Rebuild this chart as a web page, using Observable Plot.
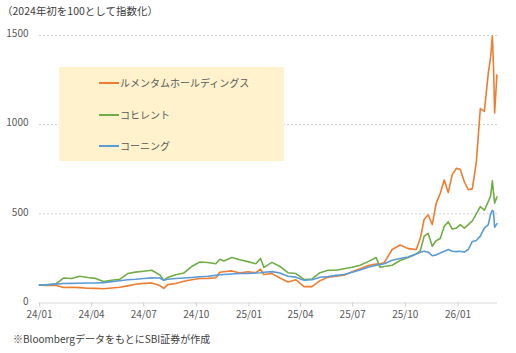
<!DOCTYPE html>
<html><head><meta charset="utf-8">
<script src="https://cdn.jsdelivr.net/npm/d3@7"></script>
<script src="https://cdn.jsdelivr.net/npm/@observablehq/plot@0.6"></script>
<style>
body{margin:0;background:#fff;font-family:"Noto Sans CJK JP","Noto Sans",sans-serif;}
#wrap{position:relative;width:516px;height:353px;overflow:hidden;}
#title{height:22px;line-height:22px;font-size:10.5px;color:#404040;padding-left:2px;white-space:nowrap;}
#chart svg{display:block;}
#caption{margin-top:4px;height:20px;line-height:20px;font-size:10px;color:#404040;padding-left:13px;white-space:nowrap;}
#legend{position:absolute;left:59px;top:67px;width:225px;height:94px;background:#FFF2CC;}
.item{position:absolute;left:40px;height:16px;line-height:16px;font-size:10px;color:#595959;white-space:nowrap;}
.item span.sw{display:inline-block;width:20px;height:2px;vertical-align:middle;margin-right:1px;position:relative;top:-1px;}
</style>
</head><body>
<div id="wrap">
<div id="title"></div>
<div id="chart"></div>
<div id="caption"></div>
<div id="legend"></div>
</div>
<script>
const titleText = "（2024年初を100として指数化）";
const captionText = "※BloombergデータをもとにSBI証券が作成";
const seriesNames = ["ルメンタムホールディングス", "コヒレント", "コーニング"];
const seriesColors = ["#ED7D31", "#70AD47", "#5B9BD5"];

const dates = ["2024-01-01","2024-01-15","2024-01-29","2024-02-12","2024-02-26","2024-03-11","2024-03-25","2024-04-08","2024-04-22","2024-05-06","2024-05-20","2024-06-03","2024-06-17","2024-07-01","2024-07-15","2024-07-29","2024-08-05","2024-08-12","2024-08-26","2024-09-09","2024-09-23","2024-10-07","2024-10-21","2024-11-04","2024-11-11","2024-11-18","2024-12-02","2024-12-16","2024-12-30","2025-01-13","2025-01-21","2025-01-27","2025-02-10","2025-02-24","2025-03-10","2025-03-24","2025-04-07","2025-04-21","2025-05-05","2025-05-19","2025-06-02","2025-06-16","2025-06-30","2025-07-14","2025-07-28","2025-08-11","2025-08-18","2025-08-25","2025-09-08","2025-09-22","2025-10-06","2025-10-20","2025-10-27","2025-11-03","2025-11-10","2025-11-17","2025-11-24","2025-12-01","2025-12-08","2025-12-15","2025-12-22","2025-12-29","2026-01-05","2026-01-12","2026-01-19","2026-01-26","2026-02-02","2026-02-09","2026-02-16","2026-02-23","2026-02-27","2026-03-02","2026-03-04","2026-03-06","2026-03-10"];

const lumentum = [100,98,100,87,88,86,83,82,80,84,88,96,105,110,112,98,82,103,109,122,130,137,138,142,172,175,180,168,175,170,190,160,165,140,118,130,92,92,125,145,150,156,175,192,210,218,220,225,300,325,305,300,360,470,495,440,560,615,690,620,720,755,750,680,635,640,790,1090,1075,1290,1380,1495,1330,1065,1280];

const coherent = [100,102,106,140,137,150,143,138,120,128,133,165,173,178,184,158,128,143,158,168,205,230,227,220,245,236,255,242,232,220,250,200,228,205,170,165,132,135,170,184,184,192,200,212,232,255,200,205,212,238,255,275,292,375,390,318,350,362,430,455,415,420,440,420,440,460,500,540,520,570,600,685,620,560,595];

const corning = [100,103,106,109,110,111,112,112,114,120,125,130,133,137,141,140,128,133,137,140,143,147,150,155,158,160,163,165,166,168,170,172,176,168,150,145,128,130,144,148,155,160,172,185,200,212,215,220,240,250,258,275,285,290,285,265,270,280,290,300,290,288,290,285,300,345,350,375,420,440,500,520,510,425,445];

const tickDates = ["2024-01-01","2024-04-01","2024-07-01","2024-10-01","2025-01-01","2025-04-01","2025-07-01","2025-10-01","2026-01-01"];
const tickLabels = ["24/01","24/04","24/07","24/10","25/01","25/04","25/07","25/10","26/01"];
const yTicks = [0, 500, 1000, 1500];
const xDomain = ["2024-01-01", "2026-03-11"];

document.getElementById("title").textContent = titleText;
document.getElementById("caption").textContent = captionText;

const seriesValues = [lumentum, coherent, corning];
const rows = [];
seriesValues.forEach((vals, si) => {
  vals.forEach((v, i) => rows.push({date: new Date(dates[i]), value: v, series: seriesNames[si]}));
});
const tickDateObjs = tickDates.map(d => new Date(d));
const labelOf = new Map(tickDateObjs.map((d, i) => [+d, tickLabels[i]]));

const chart = Plot.plot({
  width: 516,
  height: 303,
  marginLeft: 39,
  marginRight: 19,
  marginTop: 13,
  marginBottom: 22.5,
  style: {fontSize: "10px", fontFamily: "'Noto Sans CJK JP','Noto Sans',sans-serif", color: "#595959", background: "transparent"},
  x: {type: "utc", domain: xDomain.map(d => new Date(d))},
  y: {domain: [0, 1500]},
  color: {domain: seriesNames, range: seriesColors},
  marks: [
    Plot.gridY(yTicks.filter(t => t > 0), {stroke: "#d0d0d0", strokeOpacity: 1, strokeDasharray: "2,2"}),
    Plot.ruleY([0], {stroke: "#d9d9d9", strokeWidth: 1}),
    Plot.axisY({ticks: yTicks, tickSize: 0, tickPadding: 11, tickFormat: d => String(d), label: null, fill: "#595959", dy: -1.5}),
    Plot.axisX({ticks: tickDateObjs, tickSize: 4, tickPadding: 4, tickFormat: d => labelOf.get(+d), label: null, stroke: "#d0d0d0", fill: "#595959"}),
    Plot.lineY(rows, {x: "date", y: "value", z: "series", stroke: "series", strokeWidth: 1.6, strokeLinejoin: "round"})
  ]
});
document.getElementById("chart").appendChild(chart);

const legend = document.getElementById("legend");
const rowsY = [8, 40, 71];
seriesNames.forEach((name, i) => {
  const it = document.createElement("div");
  it.className = "item";
  it.style.top = rowsY[i] + "px";
  it.innerHTML = `<span class="sw" style="background:${seriesColors[i]}"></span>${name}`;
  legend.appendChild(it);
});
</script>
</body></html>
